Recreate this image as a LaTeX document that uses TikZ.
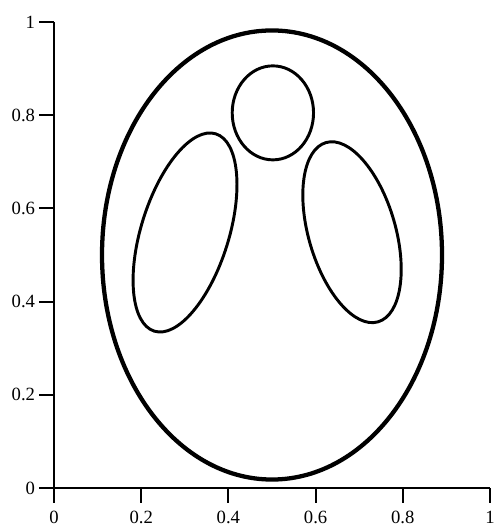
\documentclass[tikz,border=0pt]{standalone}
\usepackage{fontspec}
\setmainfont{Liberation Serif}
\begin{document}
\begin{tikzpicture}[x=327pt, y=349.5pt,
  axis/.style={line width=1.4pt},
  ticklab/.style={inner sep=0pt, font=\fontsize{14}{16}\selectfont},
  contour/.style={line width=2.2pt},
  skull/.style={line width=3.2pt}]
  \useasboundingbox (-40.5pt,-31.5pt) rectangle (332.25pt,366pt);
  % axes
  \draw[axis] (0,1) -- (0,0) -- (1,0);
  \foreach \t in {0,0.2,0.4,0.6,0.8,1} {
    \draw[axis] (\t,0) -- ++(0,-11pt);
    \node[ticklab, anchor=north] (xl\t) at ([yshift=-17pt]\t,0) {\t};
    \draw[axis] (0,\t) -- ++(-11pt,0);
    \node[ticklab, anchor=east] (yl\t) at ([xshift=-14pt]0,\t) {\t};
  }
  % phantom outlines
  \draw[skull] (0.5,0.5) ellipse [x radius=127.5pt, y radius=168.4pt];
  \draw[contour] (0.502,0.805) ellipse [x radius=30.5pt, y radius=35.25pt];
  \draw[contour] (0.3005,0.5483) ellipse [x radius=32.9pt, y radius=77.5pt, rotate=-17.3];
  \draw[contour] (0.6835,0.5489) ellipse [x radius=32.6pt, y radius=70pt, rotate=16.2];
\end{tikzpicture}
\end{document}
